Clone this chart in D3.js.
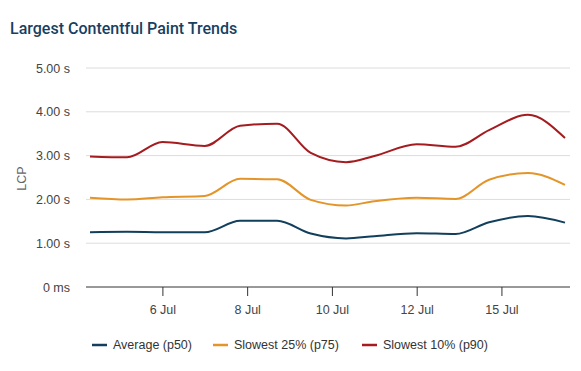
<!DOCTYPE html>
<html>
<head>
<meta charset="utf-8">
<script src="https://cdn.jsdelivr.net/npm/d3@7"></script>
<style>
  body { margin: 0; background: #fff; }
  svg { display: block; }
  .title { font-family: Roboto, "Noto Sans", sans-serif; font-weight: 500; font-size: 16px; fill: #173f5f; }
  .tick text, .legend text, .ylabel { font-family: "Liberation Sans", Arial, sans-serif; }
</style>
</head>
<body>
<svg id="chart"></svg>
<script>
'use strict';

// ── Data ────────────────────────────────────────────────────────────────
const times = [
  '2024-07-04T07:00', '2024-07-05T04:00', '2024-07-06T00:00', '2024-07-07T00:00',
  '2024-07-07T20:00', '2024-07-08T17:00', '2024-07-09T12:00', '2024-07-10T08:00',
  '2024-07-11T00:00', '2024-07-12T00:00', '2024-07-12T22:00', '2024-07-13T17:00',
  '2024-07-15T15:00', '2024-07-16T12:00'
];
const p50 = [1.25, 1.26, 1.25, 1.25, 1.51, 1.51, 1.22, 1.11, 1.16, 1.23, 1.21, 1.48, 1.62, 1.47];
const p75 = [2.04, 2.00, 2.05, 2.08, 2.47, 2.46, 1.99, 1.86, 1.96, 2.04, 2.01, 2.45, 2.60, 2.33];
const p90 = [2.98, 2.96, 3.31, 3.22, 3.68, 3.73, 3.06, 2.85, 2.99, 3.26, 3.20, 3.58, 3.93, 3.40];

const seriesNames  = ['Average (p50)', 'Slowest 25% (p75)', 'Slowest 10% (p90)'];
const seriesColors = ['#123f5c', '#e3952a', '#a41c1f'];
const yTicks = [0, 1, 2, 3, 4, 5];
const xTickDays = ['2024-07-06', '2024-07-08', '2024-07-10', '2024-07-12', '2024-07-15'];
// the axis is ordinal in time: 14 Jul has no data and takes no space
const gapDay = ['2024-07-14T00:00', '2024-07-15T00:00'];

// ── Layout ──────────────────────────────────────────────────────────────
const W = 581, H = 371;
const plot = { left: 90, right: 565, top: 68, bottom: 287 };

const svg = d3.select('#chart').attr('width', W).attr('height', H);

svg.append('text').attr('class', 'title')
  .attr('x', 10).attr('y', 34)
  .text('Largest Contentful Paint Trends');

// ── Scales ──────────────────────────────────────────────────────────────
const dates = times.map(t => new Date(t));
const t0 = dates[0], t1 = dates[dates.length - 1];
const g0 = new Date(gapDay[0]), g1 = new Date(gapDay[1]);
const span = (g0 - t0) + (t1 - g1);
const xGap = plot.left + (plot.right - plot.left) * (g0 - t0) / span;

const x = d3.scaleTime()
  .domain([t0, g0, g1, t1])
  .range([plot.left, xGap, xGap, plot.right]);

const y = d3.scaleLinear().domain([0, 5]).range([plot.bottom, plot.top]);

// ── Grid ────────────────────────────────────────────────────────────────
svg.append('g').selectAll('line')
  .data(yTicks.filter(v => v > 0)).join('line')
  .attr('x1', plot.left - 4).attr('x2', plot.right + 5)
  .attr('y1', d => y(d)).attr('y2', d => y(d))
  .attr('stroke', '#dcdcdc').attr('stroke-width', 1);

// ── Y axis labels ───────────────────────────────────────────────────────
const yAxis = svg.append('g')
  .attr('transform', `translate(${plot.left - 4},0)`)
  .call(d3.axisLeft(y).tickValues(yTicks).tickSize(0).tickPadding(16)
    .tickFormat(d => d === 0 ? '0 ms' : d3.format('.2f')(d) + ' s'));
yAxis.select('.domain').remove();
yAxis.selectAll('.tick text').attr('font-size', 12.5).attr('fill', '#444');

svg.append('text').attr('class', 'ylabel')
  .attr('transform', `translate(26,${(plot.top + plot.bottom) / 2 + 1}) rotate(-90)`)
  .attr('text-anchor', 'middle')
  .attr('font-size', 12.5).attr('fill', '#666')
  .text('LCP');

// ── X axis ──────────────────────────────────────────────────────────────
const xAxis = svg.append('g')
  .attr('transform', `translate(0,${plot.bottom})`)
  .call(d3.axisBottom(x)
    .tickValues(xTickDays.map(d => new Date(d + 'T00:00')))
    .tickFormat(d3.timeFormat('%-d %b'))
    .tickSize(9).tickSizeOuter(0).tickPadding(9));
xAxis.select('.domain').remove();
xAxis.selectAll('.tick line').attr('stroke', '#333');
xAxis.selectAll('.tick text').attr('font-size', 12.5).attr('fill', '#444');
xAxis.append('line')
  .attr('x1', plot.left - 4).attr('x2', plot.right + 5)
  .attr('stroke', '#333').attr('stroke-width', 1);

// ── Lines ───────────────────────────────────────────────────────────────
const series = [p50, p75, p90];
const line = d3.line()
  .x((d, i) => x(dates[i]))
  .y(d => y(d))
  .curve(d3.curveMonotoneX);

svg.append('g').selectAll('path')
  .data(series).join('path')
  .attr('d', line)
  .attr('fill', 'none')
  .attr('stroke', (d, i) => seriesColors[i])
  .attr('stroke-width', 2);

// ── Legend ──────────────────────────────────────────────────────────────
const legendX = [92, 213, 362];
const legend = svg.append('g').attr('class', 'legend')
  .selectAll('g').data(seriesNames).join('g')
  .attr('transform', (d, i) => `translate(${legendX[i]},345)`);
legend.append('line')
  .attr('x1', 0).attr('x2', 15)
  .attr('stroke', (d, i) => seriesColors[i]).attr('stroke-width', 2.5);
legend.append('text')
  .attr('x', 21).attr('dy', '0.35em')
  .attr('font-size', 12.5).attr('fill', '#333')
  .text(d => d);
</script>
</body>
</html>
